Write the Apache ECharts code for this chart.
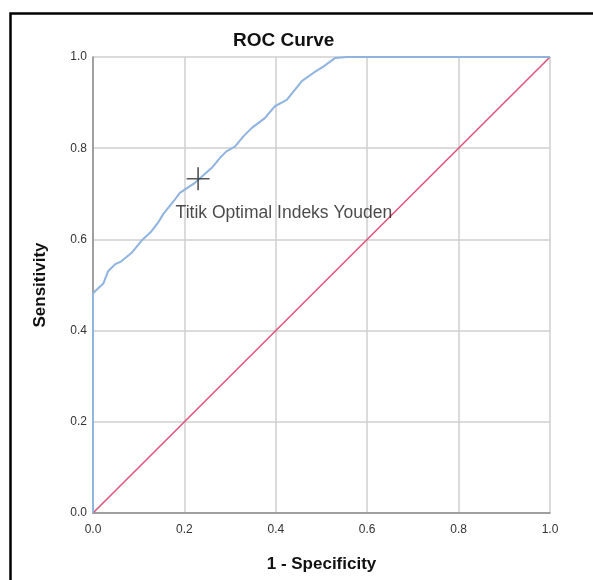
<!DOCTYPE html>
<html>
<head>
<meta charset="utf-8">
<title>ROC Curve</title>
<script src="https://cdn.jsdelivr.net/npm/echarts@6/dist/echarts.min.js"></script>
<style>
  html, body { margin: 0; padding: 0; background: #fff; }
  #chart { width: 593px; height: 580px; }
</style>
</head>
<body>
<div id="chart"></div>
<script>
// 数据：ROC 曲线（1 - 特异度, 灵敏度）
var fpr = [0, 0, 0.023, 0.033, 0.048, 0.062, 0.084, 0.106, 0.128, 0.142, 0.154, 0.179, 0.190, 0.223, 0.260, 0.278, 0.292, 0.311, 0.329, 0.347, 0.376, 0.398, 0.424, 0.457, 0.482, 0.504, 0.530, 0.555, 1.0];
var tpr = [0, 0.482, 0.504, 0.530, 0.545, 0.552, 0.570, 0.597, 0.618, 0.636, 0.656, 0.687, 0.702, 0.724, 0.757, 0.779, 0.793, 0.804, 0.826, 0.844, 0.866, 0.892, 0.906, 0.947, 0.965, 0.979, 0.998, 1.0, 1.0];
// 参考线
var refX = [0, 1];
var refY = [0, 1];
// Youden 最优点
var youdenPoint = [0.230, 0.733];
var youdenLabel = 'Titik Optimal Indeks Youden';
var tickLabels = ['0.0', '0.2', '0.4', '0.6', '0.8', '1.0'];

var chart = echarts.init(document.getElementById('chart'));
var font = 'Liberation Sans, Arial, sans-serif';

function pairs(xs, ys) {
  return xs.map(function (x, i) { return [x, ys[i]]; });
}
function fmt(v) {
  return tickLabels[Math.round(v / 0.2)] || v.toFixed(1);
}

var option = {
  backgroundColor: '#ffffff',
  animation: false,
  title: {
    text: 'ROC Curve',
    left: 233,
    top: 31,
    padding: 0,
    textStyle: { fontFamily: font, fontSize: 19, fontWeight: 'bold', color: '#111' }
  },
  grid: { left: 93, right: 43, top: 57, bottom: 67 },
  xAxis: {
    type: 'value',
    min: 0, max: 1, interval: 0.2,
    name: '1 - Specificity',
    nameLocation: 'middle',
    nameGap: 43,
    nameTextStyle: { fontFamily: font, fontSize: 17, fontWeight: 'bold', color: '#111' },
    axisLine: { show: true, lineStyle: { color: '#8c8c8c', width: 1.5 } },
    axisTick: { show: false },
    axisLabel: { fontFamily: font, fontSize: 12, color: '#333', margin: 11, formatter: fmt },
    splitLine: { show: true, lineStyle: { color: '#cfcfcf', width: 1.5 } }
  },
  yAxis: {
    type: 'value',
    min: 0, max: 1, interval: 0.2,
    name: 'Sensitivity',
    nameLocation: 'middle',
    nameGap: 44,
    nameTextStyle: { fontFamily: font, fontSize: 17, fontWeight: 'bold', color: '#111' },
    axisLine: { show: true, lineStyle: { color: '#8c8c8c', width: 1.5 } },
    axisTick: { show: false },
    axisLabel: { fontFamily: font, fontSize: 12, color: '#333', margin: 6, padding: [10, 0, 0, 0], formatter: fmt },
    splitLine: { show: true, lineStyle: { color: '#cfcfcf', width: 1.5 } }
  },
  series: [
    {
      name: 'Reference',
      type: 'line',
      data: pairs(refX, refY),
      symbol: 'none',
      lineStyle: { color: '#e0567c', width: 1.6 },
      z: 3
    },
    {
      name: 'ROC',
      type: 'line',
      data: pairs(fpr, tpr),
      symbol: 'none',
      lineStyle: { color: '#8fb4e0', width: 2 },
      z: 4
    },
    {
      name: 'Youden',
      type: 'scatter',
      data: [youdenPoint],
      symbol: 'path://M0,9.3h20v1.4h-20z M9.3,0h1.4v20h-1.4z',
      symbolSize: 23,
      itemStyle: { color: '#2a2a2a' },
      label: {
        show: true,
        formatter: youdenLabel,
        position: [-11, 37],
        align: 'left',
        verticalAlign: 'top',
        fontFamily: font,
        fontSize: 17.5,
        color: '#1a1a1a'
      },
      z: 5
    }
  ],
  graphic: [
    {
      type: 'rect',
      left: 8, top: 11,
      shape: { width: 600, height: 600 },
      style: { fill: 'none', stroke: '#000', lineWidth: 2.5 },
      silent: true
    }
  ]
};

chart.setOption(option);
window.onresize = function () { chart.resize(); };
</script>
</body>
</html>
